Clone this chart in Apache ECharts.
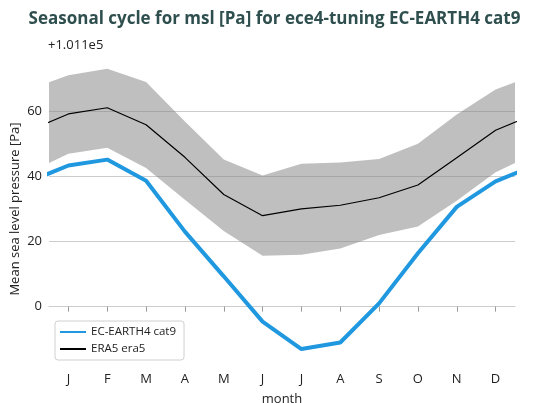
<!DOCTYPE html>
<html>
<head>
<meta charset="utf-8">
<script src="https://cdn.jsdelivr.net/npm/echarts@6/dist/echarts.min.js"></script>
<style>
html,body{margin:0;padding:0;background:#fff;}
#chart{width:549px;height:403px;}
</style>
</head>
<body>
<div id="chart"></div>
<script>
// Months 1..12 (J..D); values relative to offset +1.011e5 Pa
const monthLabels = ['J','F','M','A','M','J','J','A','S','O','N','D'];
const monthPositions = [1,2,3,4,5,6,7,8,9,10,11,12];
const ecEarth = [43.3, 45.1, 38.6, 23.0, 9.3, -4.6, -13.0, -11.0, 1.0, 16.4, 30.6, 38.4];
const era5Mean = [59.1, 61.0, 55.8, 45.8, 34.4, 27.9, 30.0, 31.1, 33.4, 37.3, 45.7, 54.1];
const era5Upper = [71.0, 73.0, 68.9, 56.8, 45.1, 40.2, 43.8, 44.2, 45.3, 50.0, 58.9, 66.6];
const era5Lower = [46.9, 48.7, 42.5, 32.8, 23.2, 15.6, 15.9, 17.8, 22.0, 24.6, 32.5, 41.2];
const yTicks = [0, 20, 40, 60];
const offsetLabel = '+1.011e5';

// wrap cycle: add December before January (x=0) and January after December (x=13)
function cyc(arr){
  const xs = [0].concat(monthPositions).concat([13]);
  const ys = [arr[11]].concat(arr).concat([arr[0]]);
  return xs.map((x,i)=>[x, ys[i]]);
}
const lowerPts = cyc(era5Lower);
const upperPts = cyc(era5Upper);

const FONT = 'Open Sans';
const chart = echarts.init(document.getElementById('chart'));
chart.setOption({
  animation:false,
  backgroundColor:'#fff',
  title:{
    text:'Seasonal cycle for msl [Pa] for ece4-tuning EC-EARTH4 cat9',
    left:'center', top:6,
    textStyle:{fontFamily:FONT, fontWeight:'bold', fontSize:17, color:'#2f4f4f'}
  },
  graphic:[{
    type:'text', left:48, top:39,
    style:{text:offsetLabel, fontFamily:FONT, fontSize:13, fill:'#222'}
  }],
  grid:{left:49, right:34, top:53, bottom:38, outerBoundsMode:'none', containLabel:false},
  legend:{
    orient:'vertical', left:55, top:321,
    data:['EC-EARTH4 cat9','ERA5 era5'],
    itemWidth:26, itemHeight:10, itemGap:5,
    padding:[5,8,5,4],
    itemStyle:{opacity:0},
    backgroundColor:'#fff', borderColor:'#d0d0d0', borderWidth:1, borderRadius:3,
    textStyle:{fontFamily:FONT, fontSize:11.5, color:'#222'}
  },
  xAxis:{
    type:'value', min:0.5, max:12.5,
    name:'month', nameLocation:'middle', nameGap:28, nameMoveOverlap:false,
    nameTextStyle:{fontFamily:FONT, fontSize:13, color:'#222'},
    axisLine:{show:true, lineStyle:{color:'#cccccc', width:1}},
    axisTick:{show:true, customValues:monthPositions, length:5, lineStyle:{color:'#999'}},
    axisLabel:{customValues:monthPositions, fontFamily:FONT, fontSize:13, color:'#222', margin:8,
      formatter:(v)=>monthLabels[Math.round(v)-1] || ''},
    splitLine:{show:false}
  },
  yAxis:{
    type:'value', min:-17.9, max:77.8,
    name:'Mean sea level pressure [Pa]', nameLocation:'middle', nameGap:27, nameRotate:90,
    nameMoveOverlap:false,
    nameTextStyle:{fontFamily:FONT, fontSize:13, color:'#222'},
    axisLine:{show:false},
    axisTick:{show:false, customValues:yTicks},
    axisLabel:{customValues:yTicks, fontFamily:FONT, fontSize:13, color:'#222', margin:7},
    splitLine:{show:true, lineStyle:{color:'#cccccc', width:1}}
  },
  series:[
    {name:'band', type:'custom', silent:true, clip:true, z:1,
      data:[0],
      renderItem:function(params, api){
        const pts = [];
        for (let i=0;i<upperPts.length;i++) pts.push(api.coord(upperPts[i]));
        for (let i=lowerPts.length-1;i>=0;i--) pts.push(api.coord(lowerPts[i]));
        const cs = params.coordSys;
        return {
          type:'polygon',
          shape:{points:pts},
          style:{fill:'rgba(128,128,128,0.5)', stroke:null},
          clipPath:{type:'rect', shape:{x:cs.x, y:cs.y, width:cs.width, height:cs.height}}
        };
      }
    },
    {name:'EC-EARTH4 cat9', type:'line', data:cyc(ecEarth), symbol:'none', clip:true,
      lineStyle:{color:'#1f98e0', width:4}, itemStyle:{color:'#1f98e0'}, z:4},
    {name:'ERA5 era5', type:'line', data:cyc(era5Mean), symbol:'none', clip:true,
      lineStyle:{color:'#000', width:1.2}, itemStyle:{color:'#000'}, z:3}
  ]
});
</script>
</body>
</html>
